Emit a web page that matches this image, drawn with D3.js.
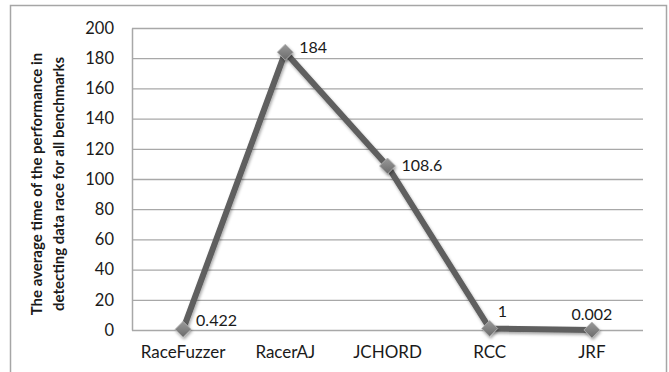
<!DOCTYPE html>
<html><head><meta charset="utf-8">
<script src="https://cdnjs.cloudflare.com/ajax/libs/d3/7.8.5/d3.min.js"></script>
<style>
body{margin:0;background:#fff;}
text{font-family:Lato,"Open Sans",sans-serif;fill:#1a1a1a;}
</style></head>
<body><svg id="c" width="669" height="372"></svg>
<script>
const categories = ["RaceFuzzer","RacerAJ","JCHORD","RCC","JRF"];
const values = [0.422, 184, 108.6, 1, 0.002];
const valueLabels = ["0.422","184","108.6","1","0.002"];
const yTicks = [0,20,40,60,80,100,120,140,160,180,200];
const yTitle = ["The average time of the performance in","detecting data race for all benchmarks"];

const FONT = "Lato,'Open Sans',sans-serif";
const svg = d3.select("#c");
const m = {left:132, right:643, top:28, bottom:330};

svg.append("rect").attr("x",10.5).attr("y",5.5).attr("width",656).attr("height",380)
  .attr("fill","#fff").attr("stroke","#a6a6a6").attr("stroke-width",1.5);

const x = d3.scaleBand().domain(categories).range([m.left,m.right]);
const y = d3.scaleLinear().domain([0,200]).range([m.bottom,m.top]);

svg.append("g").selectAll("line").data(yTicks).join("line")
  .attr("x1",m.left).attr("x2",m.right)
  .attr("y1",d=>y(d)+0.5).attr("y2",d=>y(d)+0.5)
  .attr("stroke","#a8a8a8").attr("stroke-width",1.3);

const ya = svg.append("g").attr("transform",`translate(${m.left},0)`)
  .call(d3.axisLeft(y).tickValues(yTicks).tickSize(0).tickPadding(18));
ya.select(".domain").attr("stroke","#a8a8a8").attr("stroke-width",1.5);
ya.selectAll("text").style("font-size","16.5px").style("font-family",FONT).attr("fill","#1a1a1a");

const xa = svg.append("g").attr("transform",`translate(0,${m.bottom})`)
  .call(d3.axisBottom(x).tickSize(0).tickPadding(16));
xa.select(".domain").remove();
xa.selectAll("text").style("font-size","17px").style("font-family",FONT).attr("fill","#1a1a1a");

const t = svg.append("text").attr("transform","translate(48,184) rotate(-90)")
  .attr("text-anchor","middle").style("font-size","15px").style("font-weight","bold").style("font-family",FONT);
yTitle.forEach((s,i)=>t.append("tspan").attr("x",0).attr("dy",i===0?"-0.4em":"1.45em").text(s));

const defs = svg.append("defs");
const g = defs.append("linearGradient").attr("id","mg").attr("x1","0").attr("y1","0").attr("x2","0").attr("y2","1");
g.append("stop").attr("offset","0").attr("stop-color","#9a9a9a");
g.append("stop").attr("offset","1").attr("stop-color","#6a6a6a");
const f = defs.append("filter").attr("id","sh").attr("x","-50%").attr("y","-50%").attr("width","200%").attr("height","200%");
f.append("feDropShadow").attr("dx",1).attr("dy",2).attr("stdDeviation",1.5).attr("flood-color","#000").attr("flood-opacity",0.35);

const pts = categories.map((c,i)=>({c, v:values[i], lab:valueLabels[i], px:x(c)+x.bandwidth()/2, py:y(values[i])}));

svg.append("path").datum(pts)
  .attr("d", d3.line().x(d=>d.px).y(d=>d.py))
  .attr("fill","none").attr("stroke","#5e5e5e").attr("stroke-width",6)
  .attr("stroke-linejoin","round").attr("filter","url(#sh)");

svg.append("g").selectAll("path").data(pts).join("path")
  .attr("transform",d=>`translate(${d.px},${d.py})`)
  .attr("d","M0,-8L8,0L0,8L-8,0Z")
  .attr("fill","url(#mg)").attr("stroke","#b5b5b5").attr("stroke-width",0.8)
  .attr("filter","url(#sh)");

const labOff = [[13,-9,"start"],[14,-5,"start"],[14,-1,"start"],[8,-17,"start"],[0,-16,"middle"]];
svg.append("g").selectAll("text").data(pts).join("text")
  .attr("x",(d,i)=>d.px+labOff[i][0]).attr("y",(d,i)=>d.py+labOff[i][1])
  .attr("dy","0.35em").attr("text-anchor",(d,i)=>labOff[i][2])
  .style("font-size","16px").style("font-family",FONT).text(d=>d.lab);
</script></body></html>
